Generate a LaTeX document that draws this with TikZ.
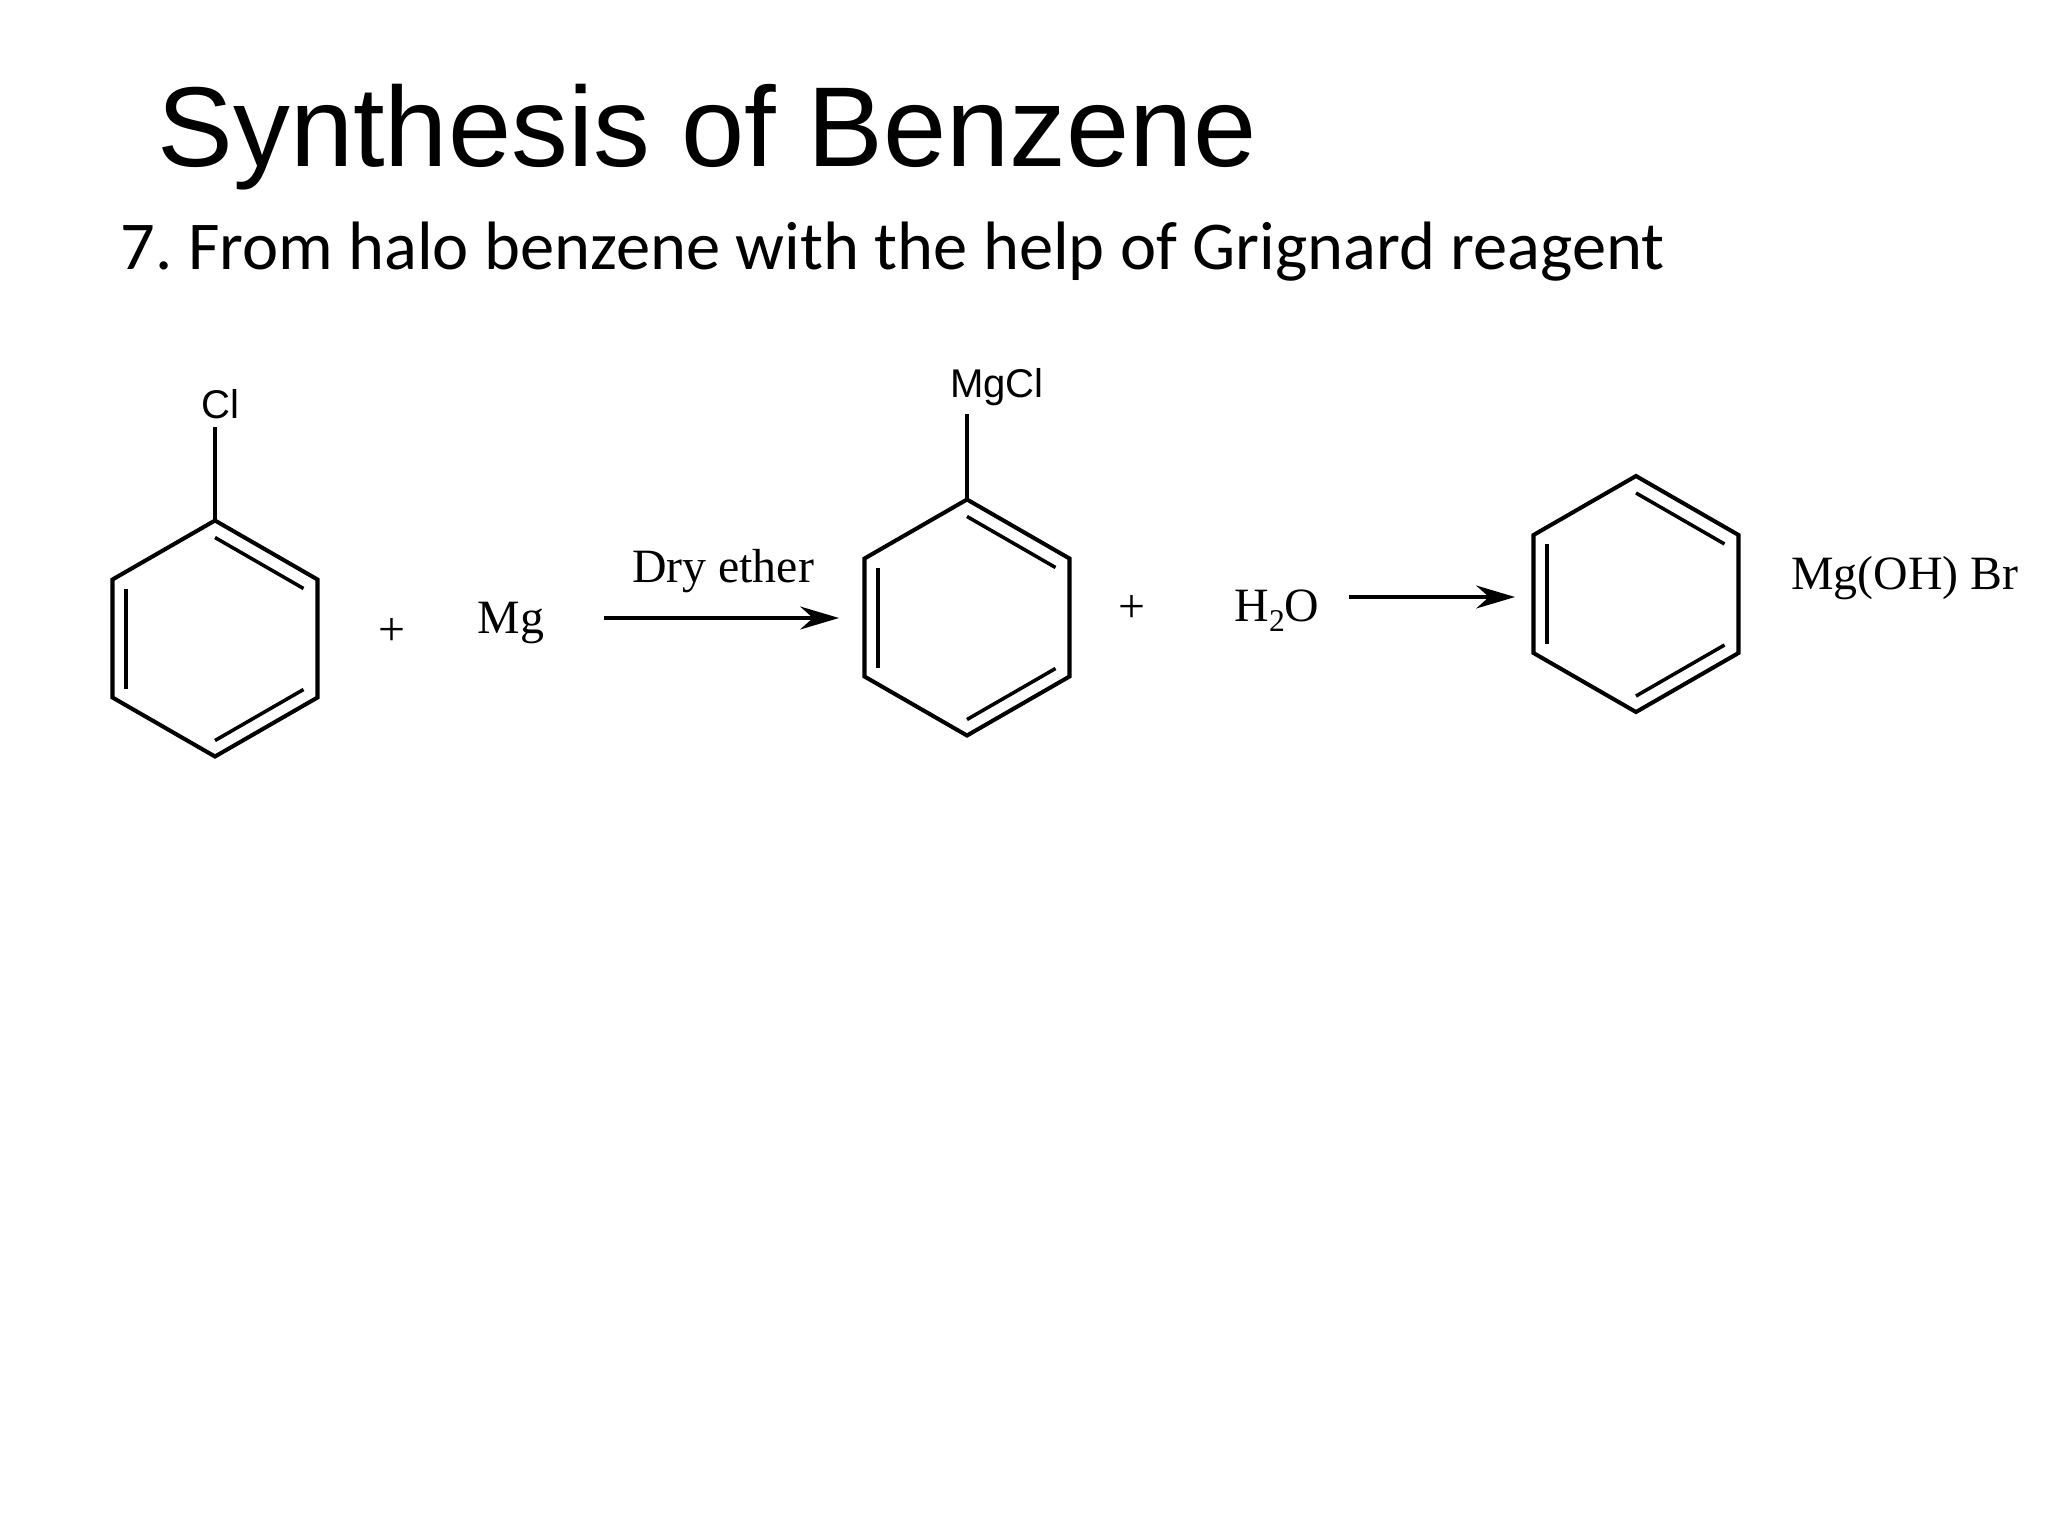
\documentclass[tikz,border=0pt]{standalone}
\usepackage{fontspec}
\setmainfont{Liberation Serif}
\newfontfamily\arialfont{Liberation Sans}
\newfontfamily\calibrifont{Carlito}
\usetikzlibrary{arrows.meta,positioning}
\tikzset{bond/.style={line width=1.15pt,line join=miter},
         inbond/.style={line width=1pt},
         rarrow/.style={line width=1.15pt,-{Stealth[length=11pt,width=6.5pt]}},
         chem/.style={inner sep=0pt,font=\fontsize{13.6}{16}\selectfont},
         atom/.style={inner sep=0pt,font=\arialfont\fontsize{11.4}{14}\selectfont}}
% one ring: name, centre x, top y
\newcommand{\benzene}[3]{
  \coordinate (#1t) at (#2,#3);
  \coordinate (#1r) at (#2+102.5,#3+59);
  \coordinate (#1s) at (#2+102.5,#3+177);
  \coordinate (#1b) at (#2,#3+236);
  \coordinate (#1q) at (#2-102.5,#3+177);
  \coordinate (#1l) at (#2-102.5,#3+59);
  \draw[bond] (#1t) -- (#1r) -- (#1s) -- (#1b) -- (#1q) -- (#1l) -- cycle;
  \draw[inbond] (#2,#3+17) -- (#2+88.5,#3+68);
  \draw[inbond] (#2+88.5,#3+169) -- (#2,#3+220);
  \draw[inbond] (#2-89,#3+68) -- (#2-89,#3+168);
}
\begin{document}
\begin{tikzpicture}[x=.01cm,y=-.01cm]
\useasboundingbox (0,0) rectangle (2048,1536);
\node[inner sep=0pt,anchor=base west,font=\arialfont\fontsize{32.3}{38}\selectfont] (title) at (157,166) {Synthesis of Benzene};
\node[inner sep=0pt,anchor=base west,font=\calibrifont\fontsize{19.47}{22}\selectfont] (subtitle) at (120,269) {7.\kern-1.5pt{} From halo benzene with the help of Grignard reagent};

\benzene{A}{215}{520.5}
\benzene{B}{967}{499.5}
\benzene{C}{1636}{476}

\node[atom] (Cl) at (220,404) {Cl};
\node[atom] (MgCl) at (997,387) {MgCl};
\coordinate (Aend) at (215,427);
\coordinate (Bend) at (967,414);
\draw[bond] (At) -- (Aend);
\draw[bond] (Bt) -- (Bend);

\node[chem] (plusA) at (391.5,632) {+};
\node[chem] (Mg) at (511,622.5) {Mg};
\node[chem] (ether) at (723,571) {Dry ether};
\node[chem] (plusB) at (1132,609) {+};
\node[chem] (water) at (1277,611) {H\raisebox{-.45ex}{\fontsize{9}{10}\selectfont 2}O};
\node[chem] (salt) at (1905,578) {Mg(OH) Br};

\coordinate (ArrA) at (603.5,618);
\coordinate (ArrB) at (839,618);
\coordinate (ArrC) at (1349,597);
\coordinate (ArrD) at (1515,597);
\draw[rarrow] (ArrA) -- (ArrB);
\draw[rarrow] (ArrC) -- (ArrD);
\end{tikzpicture}
\end{document}
